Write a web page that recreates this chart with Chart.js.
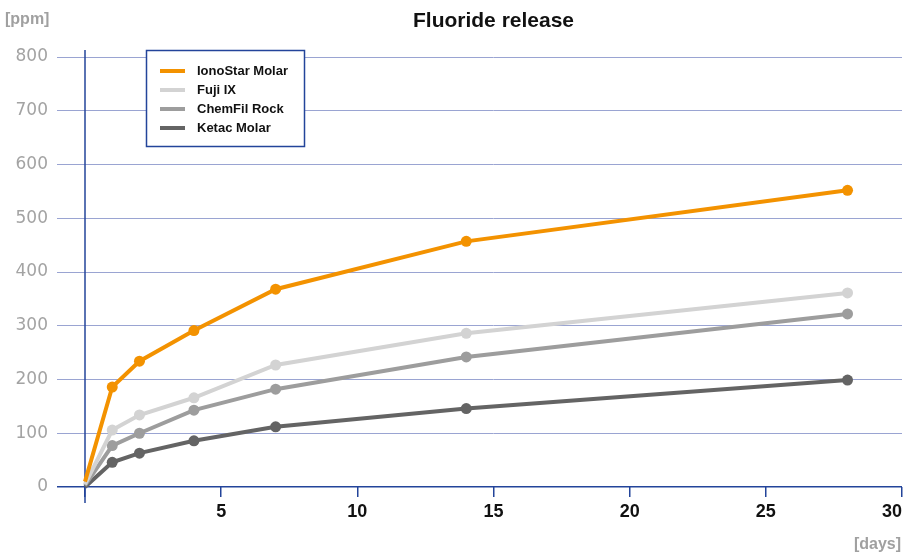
<!DOCTYPE html>
<html><head><meta charset="utf-8">
<script src="https://cdn.jsdelivr.net/npm/chart.js@4"></script>
<style>html,body{margin:0;padding:0;background:#fff}#wrap{width:904px;height:558px}</style>
</head><body><div id="wrap"><canvas id="c" width="904" height="558"></canvas></div>
<script>
const days = [0, 1, 2, 4, 7, 14, 28];
const seriesNames = ['IonoStar Molar', 'Fuji IX', 'ChemFil Rock', 'Ketac Molar'];
const ionoStar = [10, 186, 234, 291, 368, 457, 552];
const fujiIX = [5, 106, 134, 166, 227, 286, 361];
const chemFil = [3, 77, 100, 143, 182, 242, 322];
const ketac = [0, 46, 63, 86, 112, 146, 199];
const seriesColors = ['#f39200', '#d3d3d3', '#9d9d9d', '#646464'];
const titleText = 'Fluoride release';
const yUnit = '[ppm]';
const xUnit = '[days]';

const AXIS = '#23449a';
const GRID = '#9aa4d2';
const FONT = '"Liberation Sans", Arial, sans-serif';

const allValues = [ionoStar, fujiIX, chemFil, ketac];
const datasets = allValues.map((vals, i) => ({
  label: seriesNames[i],
  data: days.map((d, j) => ({x: d, y: vals[j]})),
  borderColor: seriesColors[i],
  backgroundColor: seriesColors[i],
  borderWidth: 4,
  pointRadius: days.map(d => d === 0 ? 0 : 5.5),
  pointHoverRadius: 5.5,
  pointBorderWidth: 0,
  tension: 0,
  clip: false
}));

const decor = {
  id: 'decor',
  beforeDatasetsDraw(chart) {
    const ctx = chart.ctx, x = chart.scales.x;
    const x0 = x.getPixelForValue(0);
    ctx.save();
    ctx.strokeStyle = AXIS; ctx.lineWidth = 1.5;
    ctx.beginPath();
    ctx.moveTo(x0, chart.chartArea.top - 7);
    ctx.lineTo(x0, chart.chartArea.bottom + 16);
    ctx.stroke();
    ctx.restore();
  },
  afterDraw(chart) {
    const ctx = chart.ctx, ca = chart.chartArea;
    ctx.save();
    ctx.fillStyle = '#111';
    ctx.font = 'bold 21px ' + FONT;
    ctx.textAlign = 'center'; ctx.textBaseline = 'middle';
    ctx.fillText(titleText, (ca.left + ca.right) / 2, 21);
    ctx.fillStyle = '#a0a0a0';
    ctx.font = 'bold 16px ' + FONT;
    ctx.textAlign = 'left';
    ctx.fillText(yUnit, 5, 20);
    ctx.textAlign = 'right';
    ctx.fillText(xUnit, 901, 545);
    // legend
    const bx = 146.5, by = 50.5, bw = 158, bh = 96;
    ctx.fillStyle = '#fff';
    ctx.fillRect(bx, by, bw, bh);
    ctx.strokeStyle = AXIS; ctx.lineWidth = 1.5;
    ctx.strokeRect(bx, by, bw, bh);
    ctx.font = 'bold 13px ' + FONT;
    ctx.textAlign = 'left'; ctx.textBaseline = 'middle';
    chart.data.datasets.forEach((ds, i) => {
      const yy = 71 + i * 19;
      ctx.strokeStyle = ds.borderColor; ctx.lineWidth = 4;
      ctx.beginPath(); ctx.moveTo(160, yy); ctx.lineTo(185, yy); ctx.stroke();
      ctx.fillStyle = '#111';
      ctx.fillText(ds.label, 197, yy);
    });
    ctx.restore();
  }
};

new Chart(document.getElementById('c'), {
  type: 'line',
  data: {datasets},
  options: {
    responsive: false,
    devicePixelRatio: 1,
    animation: false,
    layout: {autoPadding: false, padding: {top: 57, right: 2, left: 0, bottom: 0}},
    plugins: {legend: {display: false}, title: {display: false}, tooltip: {enabled: false}},
    scales: {
      x: {
        type: 'linear', min: 0, max: 30,
        afterFit: s => { s.height = 71; s.paddingRight = 0; s.paddingLeft = 0; },
        border: {display: false},
        grid: {drawOnChartArea: false, drawTicks: true, tickLength: 10, color: AXIS, lineWidth: 1.5},
        ticks: {stepSize: 5, align: 'inner', padding: 4, color: '#111',
          font: {family: FONT, size: 18, weight: 'bold'},
          callback: v => v === 0 ? '' : String(v)}
      },
      y: {
        min: 0, max: 800,
        afterFit: s => { s.width = 85; },
        border: {display: false},
        grid: {tickLength: 28, lineWidth: c => c.tick && c.tick.value === 0 ? 1.5 : 1,
          color: c => c.tick && c.tick.value === 0 ? AXIS : GRID},
        ticks: {stepSize: 100, padding: 9, color: '#a3a3a3',
          font: {family: '"DejaVu Sans", sans-serif', size: 17}}
      }
    }
  },
  plugins: [decor]
});
</script>
</body></html>
